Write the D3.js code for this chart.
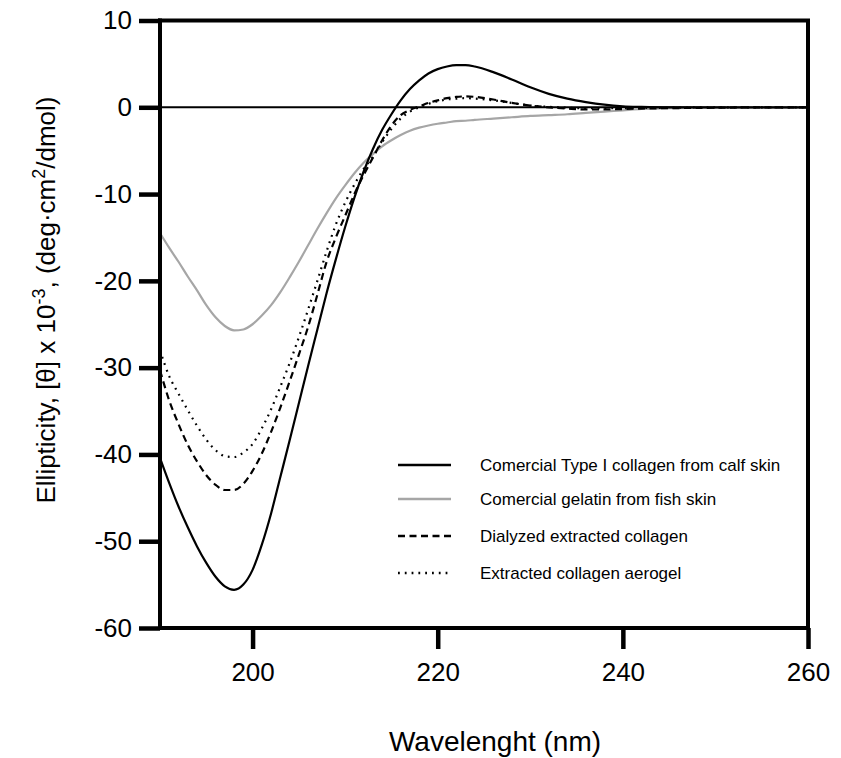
<!DOCTYPE html>
<html>
<head>
<meta charset="utf-8">
<script src="https://cdn.jsdelivr.net/npm/d3@7"></script>
<style>
  body { margin: 0; background: #fff; }
  svg text { font-family: "Liberation Sans", Arial, sans-serif; fill: #000; }
</style>
</head>
<body>
<div id="chart"></div>
<script>
// Wellenlängen (nm)
const wavelengths = [
  190,191,192,193,194,195,196,197,198,199,200,201,202,203,204,205,206,207,208,209,
  210,211,212,213,214,215,216,217,218,219,220,221,222,223,
  224,226,228,230,232,234,236,238,240,242,245,250,255,260
];

// Serien (Elliptizität x 10^-3)
const calfSkin = [
  -40.4,-43.3,-46.0,-48.4,-50.6,-52.5,-54.1,-55.2,-55.6,-55.0,-53.3,-50.4,-46.8,-42.6,-38.4,-34.1,-29.8,-25.6,-21.4,-17.5,
  -13.8,-10.4,-7.4,-4.8,-2.6,-0.8,0.8,2.1,3.1,3.9,4.4,4.7,4.85,4.85,
  4.7,4.05,3.2,2.3,1.55,1.0,0.6,0.3,0.12,0.05,0,0,0,0
];
const fishGelatin = [
  -14.5,-16.2,-17.8,-19.5,-21.1,-22.8,-24.2,-25.2,-25.7,-25.6,-25.0,-24.0,-22.8,-21.3,-19.6,-17.8,-15.9,-14.0,-12.2,-10.5,
  -9.0,-7.6,-6.4,-5.4,-4.5,-3.8,-3.2,-2.7,-2.35,-2.1,-1.9,-1.75,-1.6,-1.55,
  -1.45,-1.3,-1.15,-1.0,-0.9,-0.8,-0.65,-0.5,-0.35,-0.2,-0.1,0,0,0
];
const dialyzed = [
  -30.3,-33.8,-36.5,-38.9,-40.8,-42.4,-43.5,-44.1,-44.1,-43.4,-41.9,-39.9,-37.4,-34.6,-31.6,-28.5,-25.3,-21.6,-17.8,-15.0,
  -12.5,-10.0,-7.8,-5.8,-3.8,-2.1,-0.9,-0.3,0.1,0.5,0.8,1.05,1.2,1.25,
  1.2,0.9,0.5,0.2,0,-0.15,-0.25,-0.25,-0.2,-0.15,-0.1,-0.05,0,0
];
const aerogel = [
  -28.0,-31.0,-33.0,-34.9,-36.7,-38.3,-39.5,-40.2,-40.3,-39.8,-38.8,-37.0,-34.8,-32.2,-29.5,-26.5,-23.3,-20.0,-16.6,-13.5,
  -11.0,-8.9,-7.1,-5.7,-4.0,-2.5,-1.3,-0.5,0.0,0.4,0.7,0.9,1.0,1.05,
  1.0,0.8,0.5,0.2,0.05,-0.05,-0.1,-0.1,-0.1,-0.08,-0.05,0,0,0
];

const seriesNames = [
  'Comercial Type I collagen from calf skin',
  'Comercial gelatin from fish skin',
  'Dialyzed extracted collagen',
  'Extracted collagen aerogel'
];

// Achsen-Ticks
const xTicks = [200, 220, 240, 260];
const yTicks = [10, 0, -10, -20, -30, -40, -50, -60];

const W = 841, H = 758;
const margin = { top: 20.5, right: 33, bottom: 130, left: 160 };
const width  = 808 - margin.left;
const height = 628 - margin.top;

const styles = [
  { color: '#000', dash: null,  w: 2.2 },
  { color: '#a6a6a6', dash: null, w: 2.2 },
  { color: '#000', dash: '7,4.5', w: 2.2 },
  { color: '#000', dash: '1.8,5', w: 2.2 }
];

const svgRoot = d3.select('#chart').append('svg')
  .attr('width', W).attr('height', H);
const svg = svgRoot.append('g')
  .attr('transform', `translate(${margin.left},${margin.top})`);

const x = d3.scaleLinear().domain([190, 260]).range([0, width]);
const y = d3.scaleLinear().domain([-60, 10]).range([height, 0]);

// Nulllinie
svg.append('line')
  .attr('x1', 0).attr('x2', width)
  .attr('y1', y(0)).attr('y2', y(0))
  .attr('stroke', '#000').attr('stroke-width', 2);

// Kurven
const line = d3.line()
  .x((d, i) => x(wavelengths[i]))
  .y(d => y(d))
  .curve(d3.curveMonotoneX);

const allSeries = [calfSkin, fishGelatin, dialyzed, aerogel];
// grau zuerst, damit schwarz obenauf liegt
[1, 3, 2, 0].forEach(k => {
  svg.append('path')
    .attr('d', line(allSeries[k]))
    .attr('fill', 'none')
    .style('stroke', styles[k].color)
    .style('stroke-width', styles[k].w)
    .style('stroke-dasharray', styles[k].dash);
});

// Rahmen oben / rechts
svg.append('line')
  .attr('x1', -2).attr('x2', width + 2)
  .attr('y1', 0).attr('y2', 0)
  .style('stroke', '#000').style('stroke-width', 4);
svg.append('line')
  .attr('x1', width).attr('x2', width)
  .attr('y1', 0).attr('y2', height)
  .style('stroke', '#000').style('stroke-width', 4);

// Achsen
const xAxis = svg.append('g')
  .attr('transform', `translate(0,${height})`)
  .call(d3.axisBottom(x).tickValues(xTicks).tickSize(21).tickPadding(14).tickSizeOuter(0));
const yAxis = svg.append('g')
  .call(d3.axisLeft(y).tickValues(yTicks).tickSize(21).tickPadding(7).tickSizeOuter(0));

[xAxis, yAxis].forEach(a => {
  a.select('.domain').style('stroke', '#000').style('stroke-width', 4);
  a.selectAll('.tick line').style('stroke', '#000').style('stroke-width', 4.5);
  a.selectAll('.tick text')
    .attr('font-size', 26)
    .style('font-family', '"Liberation Sans", Arial, sans-serif')
    .style('fill', '#000');
});
xAxis.select('.domain').attr('d', `M-2,0H${width + 2}`);
yAxis.select('.domain').attr('d', `M0,${height + 2}V-2`);
yAxis.selectAll('.tick text').text(d => d < 0 ? '-' + Math.abs(d) : d);

// Achsentitel
svgRoot.append('text')
  .attr('x', 495).attr('y', 751)
  .attr('text-anchor', 'middle')
  .attr('font-size', 28)
  .text('Wavelenght (nm)');

const yl = svgRoot.append('text')
  .attr('transform', 'translate(55,300) rotate(-90)')
  .attr('text-anchor', 'middle')
  .attr('font-size', 26);
yl.append('tspan').text('Ellipticity, [θ] x 10');
yl.append('tspan').attr('font-size', 18).attr('dy', -10).text('-3');
yl.append('tspan').attr('dy', 10).text(', (deg·cm');
yl.append('tspan').attr('font-size', 18).attr('dy', -10).text('2');
yl.append('tspan').attr('dy', 10).text('/dmol)');

// Legende
const legend = svgRoot.append('g').attr('transform', 'translate(398,465)');
const rowY = [0, 34, 71, 108];
seriesNames.forEach((name, i) => {
  const g = legend.append('g').attr('transform', `translate(0,${rowY[i]})`);
  g.append('line')
    .attr('x1', 0).attr('x2', 53)
    .style('stroke', styles[i].color)
    .style('stroke-width', 2.5)
    .style('stroke-dasharray', styles[i].dash);
  g.append('text')
    .attr('x', 82).attr('y', 6)
    .attr('font-size', 17)
    .text(name);
});
</script>
</body>
</html>
